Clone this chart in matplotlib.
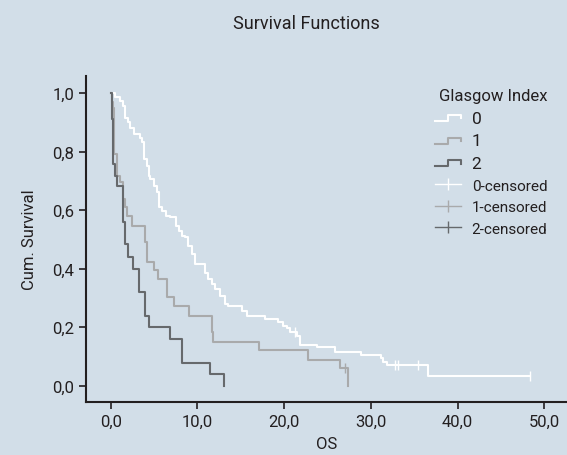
import matplotlib
matplotlib.use('Agg')
import matplotlib.pyplot as plt
from matplotlib.lines import Line2D
from matplotlib.legend_handler import HandlerBase

# Kaplan-Meier steps (time, cumulative survival)
t0 = [0, 0.5, 1.07, 1.38, 1.65, 2.03, 2.22, 2.69, 3.38, 3.57, 3.84, 4.15, 4.42, 4.53,
      5.0, 5.37, 5.6, 5.88, 6.38, 6.84, 7.53, 7.9, 8.19, 8.57, 8.95, 9.34, 9.72, 10.88,
      11.26, 11.65, 12.03, 12.6, 13.18, 13.57, 15.1, 15.7, 17.8, 19.3, 19.9, 20.3, 20.7,
      21.5, 21.8, 23.8, 25.9, 28.9, 31.1, 31.4, 31.8, 36.6, 48.3]
s0 = [1.0, 0.985, 0.974, 0.957, 0.914, 0.902, 0.88, 0.86, 0.845, 0.832, 0.775, 0.752,
      0.718, 0.706, 0.684, 0.661, 0.61, 0.598, 0.581, 0.576, 0.547, 0.53, 0.513, 0.507,
      0.479, 0.45, 0.416, 0.385, 0.365, 0.348, 0.331, 0.308, 0.28, 0.272, 0.257, 0.24,
      0.229, 0.218, 0.206, 0.197, 0.183, 0.172, 0.14, 0.132, 0.117, 0.106, 0.095, 0.081,
      0.072, 0.035, 0.035]

t1 = [0, 0.2, 0.3, 0.42, 0.69, 1.07, 1.38, 1.65, 1.85, 2.42, 3.96, 4.15, 5.0, 5.49,
      6.53, 7.3, 9.07, 11.65, 11.84, 17.1, 22.7, 26.4, 27.4]
s1 = [1.0, 0.97, 0.95, 0.79, 0.718, 0.695, 0.638, 0.61, 0.581, 0.547, 0.49, 0.422,
      0.394, 0.365, 0.303, 0.272, 0.24, 0.183, 0.149, 0.124, 0.09, 0.06, 0.0]

t2 = [0, 0.2, 0.3, 0.5, 0.76, 1.38, 1.65, 2.03, 2.6, 3.27, 4.0, 4.45, 6.84, 8.19,
      11.45, 13.07]
s2 = [1.0, 0.91, 0.758, 0.718, 0.684, 0.559, 0.485, 0.439, 0.4, 0.32, 0.24, 0.2,
      0.16, 0.078, 0.039, 0.0]

# censored observations
c0_t = [21.3, 32.8, 33.1, 35.4, 48.3]
c0_s = [0.183, 0.072, 0.072, 0.072, 0.035]
c1_t = [27.0]
c1_s = [0.06]
c2_t = []
c2_s = []

groups = ['0', '1', '2']
colors = ['#ffffff', '#a9aaab', '#66696c']
xticks = [0, 10, 20, 30, 40, 50]
yticks = [0.0, 0.2, 0.4, 0.6, 0.8, 1.0]

bg = '#d2dee8'
txt = '#231f20'
plt.rcParams['font.family'] = ['Roboto', 'DejaVu Sans']
plt.rcParams['font.size'] = 12


class StepHandler(HandlerBase):
    # draws the little step icon used in the legend
    def create_artists(self, legend, orig, xd, yd, w, h, fontsize, trans):
        xs = [xd, xd + 0.5 * w, xd + 0.5 * w, xd + w, xd + w]
        ys = [yd + 0.15 * h, yd + 0.15 * h, yd + 0.7 * h, yd + 0.7 * h, yd + 0.4 * h]
        ln = Line2D(xs, ys, color=orig.get_color(), lw=1.5, transform=trans)
        return [ln]


fig = plt.figure(figsize=(5.67, 4.56), dpi=100, facecolor=bg)
ax = fig.add_axes([0.1517, 0.1162, 0.8483, 0.715])
ax.set_facecolor(bg)

series = [(t0, s0, c0_t, c0_s), (t1, s1, c1_t, c1_s), (t2, s2, c2_t, c2_s)]
step_handles = []
cens_handles = []
for (t, s, ct, cs), col, g in zip(series, colors, groups):
    h, = ax.step(t, s, where='post', color=col, lw=1.5)
    ax.plot(ct, cs, ls='none', marker='|', ms=7, mew=1.0, color=col)
    step_handles.append(h)
    cens_handles.append(Line2D([], [], color=col, lw=1.0, marker='|', ms=9, mew=1.0))

ax.set_xlim(-2.85, 52.6)
ax.set_ylim(-0.055, 1.058)
ax.set_xticks(xticks)
ax.set_yticks(yticks)
ax.set_xticklabels([f'{v:.1f}'.replace('.', ',') for v in xticks])
ax.set_yticklabels([f'{v:.1f}'.replace('.', ',') for v in yticks])

for side in ['top', 'right']:
    ax.spines[side].set_visible(False)
for side in ['left', 'bottom']:
    ax.spines[side].set_color(txt)
    ax.spines[side].set_linewidth(1.5)
ax.tick_params(colors=txt, labelcolor=txt, length=5, width=1.2, labelsize=12)

ax.set_xlabel('OS', color=txt, fontsize=12, labelpad=5)
ax.set_ylabel('Cum. Survival', color=txt, fontsize=12, labelpad=11)
fig.text(0.54, 0.948, 'Survival Functions', ha='center', va='center', color=txt, fontsize=13)

labels = groups + [g + '-censored' for g in groups]
leg = ax.legend(step_handles + cens_handles, labels, title='Glasgow Index',
                handler_map={h: StepHandler() for h in step_handles},
                loc='upper left', bbox_to_anchor=(0.743, 0.835), bbox_transform=fig.transFigure,
                frameon=False, handlelength=1.7, handletextpad=0.7, labelspacing=0.5,
                fontsize=11, title_fontsize=12, alignment='right')
for i, tx in enumerate(leg.get_texts()):
    tx.set_color(txt)
    if i < 3:
        tx.set_fontsize(12.5)
leg.get_title().set_color(txt)

fig.savefig('out.png', dpi=100, facecolor=bg)
